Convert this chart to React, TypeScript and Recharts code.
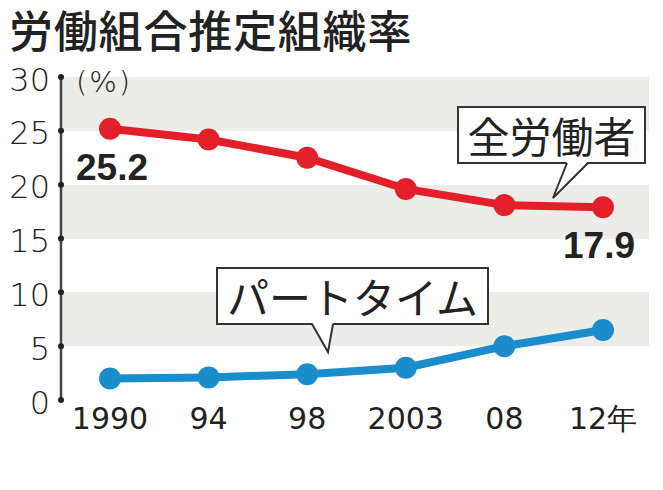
import { CartesianGrid, LabelList, Line, LineChart, XAxis, YAxis } from "recharts";

const years = ["1990", "94", "98", "2003", "08", "12年"];
const allWorkers = [25.2, 24.2, 22.5, 19.6, 18.1, 17.9];
const partTime = [2.0, 2.1, 2.4, 3.0, 5.0, 6.5];
const yTicks = [0, 5, 10, 15, 20, 25, 30];

const data = years.map((year, i) => ({ year, all: allWorkers[i], part: partTime[i] }));

const AXIS_X = 61;
const RED = "#e3202a";
const BLUE = "#1b8ccc";
const INK = "#222";
const BAND = "#ecece8";
const JP = "'Noto Sans CJK JP', 'Noto Sans', sans-serif";

function YTick({ y, payload }: any) {
  return (
    <g>
      <circle cx={AXIS_X} cy={y} r={3} fill={INK} />
      <text
        x={50}
        y={y + 13.5}
        textAnchor="end"
        fontFamily="'DejaVu Sans', sans-serif"
        fontWeight={300}
        fontSize={32}
        fill={INK}
      >
        {payload.value}
      </text>
    </g>
  );
}

function EndLabel(props: any) {
  const { x, y, index, value } = props;
  if (index !== 0 && index !== allWorkers.length - 1) return null;
  const dx = index === 0 ? 2 : -4;
  return (
    <text
      x={x + dx}
      y={y + 51}
      textAnchor="middle"
      fontFamily="'Liberation Sans', Arial, sans-serif"
      fontWeight={700}
      fontSize={37}
      fill={INK}
    >
      {Number(value).toFixed(1)}
    </text>
  );
}

function Callout({
  x,
  y,
  w,
  h,
  text,
  base,
  tip
}: {
  x: number;
  y: number;
  w: number;
  h: number;
  text: string;
  base: [number, number];
  tip: [number, number];
}) {
  const by = y + h;
  return (
    <g>
      <rect x={x} y={y} width={w} height={h} fill="#fff" stroke="#333" strokeWidth={2} />
      <polygon points={`${base[0]},${by - 1.5} ${base[1]},${by - 1.5} ${tip[0]},${tip[1]}`} fill="#fff" />
      <polyline
        points={`${base[0]},${by} ${tip[0]},${tip[1]} ${base[1]},${by}`}
        fill="none"
        stroke="#333"
        strokeWidth={2}
      />
      <text
        x={x + w / 2}
        y={by - 10}
        textAnchor="middle"
        fontFamily={JP}
        fontSize={42}
        fill={INK}
      >
        {text}
      </text>
    </g>
  );
}

export default function App() {
  return (
    <div style={{ position: "absolute", left: 0, top: 0, width: 663, height: 490, background: "#fff" }}>
      <LineChart width={663} height={490} data={data} margin={{ top: 77, right: 14, bottom: 50, left: 0 }}>
        <CartesianGrid
          vertical={false}
          stroke="none"
          horizontalFill={[BAND, "#ffffff"]}
          fillOpacity={1}
        />
        <XAxis
          dataKey="year"
          axisLine={false}
          tickLine={false}
          padding={{ left: 49, right: 46 }}
          tick={{ fill: INK, fontSize: 30, fontFamily: "'DejaVu Sans', sans-serif" }}
          height={40}
        />
        <YAxis
          width={AXIS_X}
          domain={[0, 30]}
          ticks={yTicks}
          interval={0}
          axisLine={{ stroke: "#444", strokeWidth: 2.5 }}
          tickLine={false}
          tick={<YTick />}
        />
        <Line
          dataKey="part"
          stroke={BLUE}
          strokeWidth={8}
          dot={{ r: 11, fill: BLUE, stroke: "none" }}
          activeDot={false}
          isAnimationActive={false}
        />
        <Line
          dataKey="all"
          stroke={RED}
          strokeWidth={8}
          dot={{ r: 11, fill: RED, stroke: "none" }}
          activeDot={false}
          isAnimationActive={false}
        >
          <LabelList dataKey="all" content={<EndLabel />} />
        </Line>
      </LineChart>
      <svg
        width={663}
        height={490}
        style={{ position: "absolute", left: 0, top: 0, pointerEvents: "none" }}
      >
        <text x={9} y={48} fontFamily={JP} fontWeight={500} fontSize={44} letterSpacing={0.8} fill={INK}>
          労働組合推定組織率
        </text>
        <text
          x={76}
          y={92}
          fontFamily="'DejaVu Sans', sans-serif"
          fontWeight={300}
          fontSize={29}
          letterSpacing={2}
          fill={INK}
        >
          (%)
        </text>
        <Callout x={458} y={107} w={187} h={56} text="全労働者" base={[567, 588]} tip={[553, 198]} />
        <Callout x={217} y={268} w={271} h={56} text="パートタイム" base={[312, 333]} tip={[328, 352]} />
      </svg>
    </div>
  );
}
